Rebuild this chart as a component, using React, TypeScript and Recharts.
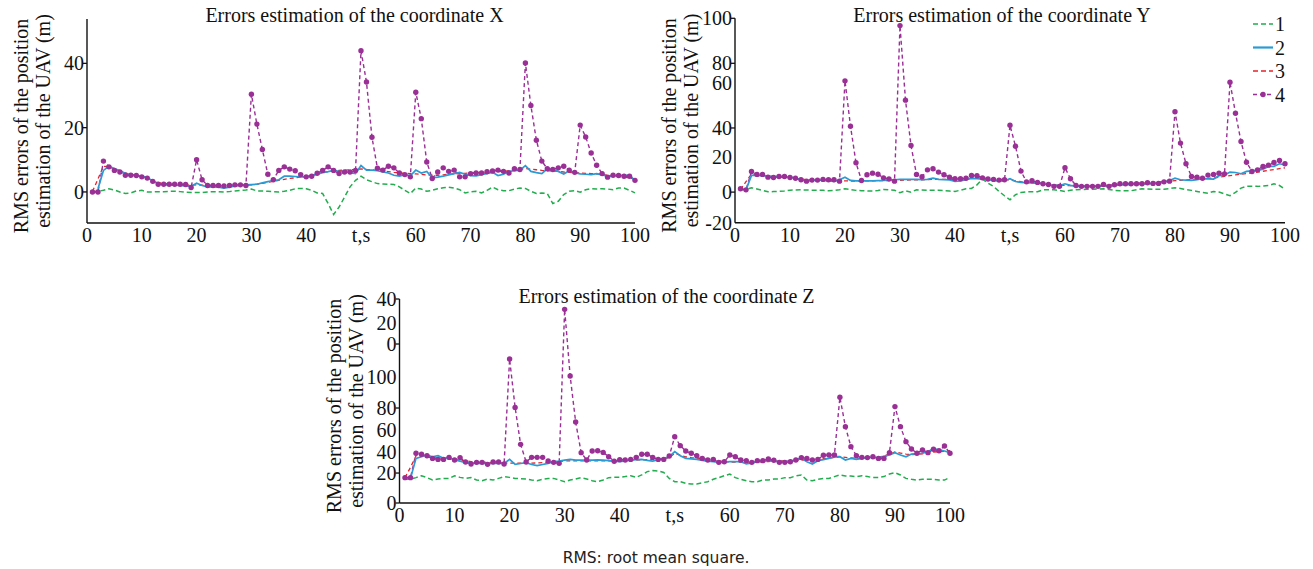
import React from 'react';
import { LineChart, Line, XAxis, YAxis, Legend } from 'recharts';

// time stamps (s)
const T: number[] = Array.from({ length: 100 }, (_, i) => i + 1);

const xTicks = [0, 10, 20, 30, 40, 50, 60, 70, 80, 90, 100];
const xTickLabels = ['0', '10', '20', '30', '40', 't,s', '60', '70', '80', '90', '100'];

// ---- coordinate X ----
const x1 = [0.1,0.2,0.5,1.0,0.6,0.0,-0.5,-0.3,0.3,0.5, 0.0,0.0,0.1,0.1,0.2,0.2,0.1,-0.1,-0.2,-0.2, -0.2,0.0,0.1,0.1,0.0,0.1,0.3,0.5,0.6,0.9, 0.3,0.3,0.2,0.1,0.0,0.2,0.5,1.0,1.1,1.0, 0.5,-0.3,-0.5,-3.6,-7.0,-4.7,-1.6,1.6,3.6,4.9, 3.8,3.2,2.6,2.5,2.4,2.3,1.6,0.5,-0.5,1.2, 0.9,0.2,0.5,1.0,1.3,1.5,1.2,0.7,-0.3,0.0, 0.2,-0.3,0.5,1.5,0.7,0.4,0.4,0.9,1.2,1.1, 0.2,-0.5,-0.3,-0.5,-3.6,-2.9,-0.8,0.2,0.4,-0.1, 0.7,1.0,0.9,1.0,0.9,0.7,1.2,1.2,0.5,-0.3];
const x2 = [null,1.0,6.7,8.0,7.3,6.6,5.8,5.3,5.1,4.9, 4.4,3.5,2.6,2.3,2.2,2.1,2.0,1.9,1.8,2.7, 2.0,1.6,1.6,1.5,1.2,1.5,1.9,2.1,2.2,2.3, 2.4,2.8,3.2,3.5,3.8,4.9,4.9,4.8,4.7,4.7, 5.2,5.5,6.0,6.3,6.7,6.4,6.3,6.0,5.7,8.2, 6.8,6.8,6.6,6.2,5.9,5.2,4.9,5.4,5.0,6.8, 5.9,6.4,4.4,4.6,4.9,5.3,5.7,6.1,5.5,5.1, 5.0,5.4,5.8,6.1,5.1,5.5,6.4,6.6,6.8,8.2, 6.4,6.0,5.7,7.2,6.8,6.4,5.6,6.6,6.0,5.6, 5.5,5.4,5.7,5.3,4.9,5.0,5.1,5.2,5.2,3.6];
const x3 = [0.2,4.0,8.0,7.8,7.2,6.5,5.9,5.4,5.1,4.8, 4.3,3.6,2.9,2.6,2.5,2.4,2.3,2.2,2.1,2.2, 2.1,2.0,2.0,1.9,1.9,1.9,2.0,2.0,2.1,2.2, 2.4,2.7,3.0,3.3,3.6,3.9,4.2,4.4,4.6,4.8, 5.2,5.6,6.0,6.3,6.5,6.7,6.8,6.9,7.0,7.2, 7.0,6.9,6.7,6.5,6.3,6.1,6.0,5.8,5.7,5.6, 5.5,5.3,5.2,5.2,5.3,5.5,5.6,5.7,5.8,5.9, 6.0,6.0,6.1,6.2,6.3,6.4,6.6,6.8,7.0,7.3, 7.1,6.9,6.7,6.6,6.5,6.4,6.2,6.1,6.0,5.9, 5.8,5.7,5.6,5.4,5.2,5.0,4.8,4.6,4.4,4.0];
const x4 = [0,0,9.6,7.8,6.7,6.2,5.2,5.2,5.1,4.7, 4.3,3.3,2.4,2.4,2.4,2.4,2.4,2.3,1.4,10, 3.8,2.0,2.0,2.0,1.9,2.0,2.2,2.2,2.0,30.4, 21.1,13.2,5.5,3.8,6.7,7.8,7.1,6.6,5.4,4.7, 4.9,5.8,6.7,7.8,6.7,5.7,6.2,6.2,6.7,43.9, 34.2,17,7.4,6.8,8.0,7.5,5.9,5.4,4.7,31, 22.8,9.3,4.2,6.2,7.5,6.4,6.8,4.7,4.7,5.7, 5.9,5.9,6.3,6.5,6.8,6.4,5.9,7.2,7.0,40.1, 26.9,16.1,9.6,7.2,7.0,7.5,8.0,6.8,6.1,20.8, 17.1,12.1,8.3,5.7,4.6,5.2,5.1,4.9,4.9,3.6];

// ---- coordinate Y ----
const y1 = [1.3,1.5,2.5,1.8,1.0,0.2,0.3,0.4,0.7,1.1, 1.2,1.3,1.2,1.1,1.1,1.0,0.8,1.0,1.4,1.9, 1.5,1.0,0.8,0.7,0.6,0.9,1.5,1.3,1.1,-0.4, 0.8,0.0,1.3,1.2,1.1,1.0,1.1,0.8,0.6,0.4, 1.1,1.9,2.1,4.2,7.5,5.2,3.3,0.4,-2.1,-4.4, -1.5,-0.2,0.2,0.2,0.2,1.3,1.3,1.3,0.9,0.4, 1.1,1.3,1.5,1.6,1.7,1.8,1.9,1.5,1.0,0.8, 0.8,0.8,1.3,1.9,1.8,1.7,1.7,1.7,2.0,2.5, 2.1,1.5,1.0,0.4,-0.2,-0.6,0.4,0.0,-1.0,-2.1, -0.2,2.3,3.3,3.3,3.3,3.5,3.8,4.8,3.8,1.7];
const y2 = [null,1.3,9.6,9.6,9.5,9.2,9.0,8.8,8.7,8.6, 8.0,7.2,6.7,6.8,7.0,6.8,6.5,6.1,7.1,8.6, 6.7,6.5,6.5,6.5,6.5,6.6,6.7,6.9,7.1,7.3, 7.3,7.3,7.3,7.2,7.3,8.0,7.3,7.2,7.0,6.1, 6.5,7.2,7.9,7.7,7.5,7.1,6.7,6.5,6.5,7.7, 6.1,5.6,5.5,5.3,5.2,4.8,4.2,4.0,3.8,4.8, 3.9,3.3,3.3,3.3,3.3,3.4,3.5,3.6,3.9,4.2, 4.3,4.4,4.4,4.6,4.8,5.0,5.2,5.8,6.7,8.0, 7.1,6.9,6.7,7.2,7.7,7.6,7.5,9.4,9.8,11.5, 11.3,10.5,11.9,12.2,12.5,13.2,14.8,14.8,16.3,15.7];
const y3 = [1.5,6.0,10.5,10.0,9.6,9.2,8.9,8.6,8.4,8.1, 7.8,7.5,7.2,7.0,6.9,6.8,6.7,6.6,6.5,6.5, 6.4,6.4,6.4,6.5,6.5,6.6,6.6,6.7,6.7,6.8, 6.9,7.0,7.0,7.1,7.2,7.3,7.3,7.3,7.3,7.4, 7.6,7.8,8.0,8.1,8.0,7.8,7.6,7.4,7.2,7.0, 6.5,6.0,5.7,5.4,5.1,4.8,4.5,4.2,4.0,3.9, 3.7,3.6,3.5,3.5,3.5,3.6,3.8,4.0,4.3,4.5, 4.7,4.9,5.1,5.3,5.5,5.7,5.9,6.1,6.3,6.6, 6.8,7.0,7.2,7.4,7.6,7.9,8.2,8.6,9.0,9.5, 9.9,10.3,10.7,11.1,11.5,12.0,12.5,13.0,13.5,14.0];
const y4 = [1.9,1.3,11.9,10.2,10.2,8.6,8.4,9.0,9.0,8.4, 8.0,7.1,6.3,6.9,6.9,7.3,7.1,7.1,6.3,64, 37.9,16.9,6.7,10,10.9,10.3,8.2,7.5,6.3,95.8, 52.9,26.8,10.2,8.8,12.8,13.4,11.5,10,8.6,7.7, 7.7,8.0,9.6,9.4,8.2,7.5,7.3,6.9,7.1,38.5, 26.4,12.1,5.9,6.5,5.6,4.8,4.4,3.3,3.3,14, 7.7,3.8,3.3,3.3,3.3,3.3,4.4,3.3,4.2,4.8, 4.8,4.8,4.8,4.8,5.4,5.0,5.0,5.9,6.3,46.2, 28.2,16.3,9.0,8.6,8.0,9.8,10.2,10.9,10.5,63.2, 45.4,29.1,17.2,11.9,12.8,14.8,15.5,17.0,18.2,16.3];

// ---- coordinate Z ----
const z1 = [18.6,18.8,19.9,21.4,19.9,18,18.8,19.3,19.3,21.4, 20.1,19.3,19.9,18,17.5,18.8,18,19.3,20.7,20.1, 19.3,19.1,18.8,18,17.5,18.6,19.3,19.3,18,16.7, 18,18.8,19.9,18.8,17.5,16.7,18,19.9,20.1,20.1, 20.7,21.4,20.1,22,24.6,25.4,25.1,24,19.3,16.7, 16.7,15.4,14.9,14.9,15.9,16.7,18.6,19.9,21.4,22.7, 19.9,18.6,17.5,16.7,16.7,18,18,18.8,18.8,19.9, 19.9,21.2,22,18,17.5,18.6,19.3,19.3,20.7,22, 21.2,21.2,20.7,21.4,20.7,19.9,20.1,20.7,22.7,23.8, 22,19.3,18.6,18,18.6,18.6,18.6,18,18,20.1];
const z2 = [null,19.3,35,36.3,37.6,36.3,37.1,35,35.6,33.7, 32.8,31.6,31.2,31.0,31.1,31.0,31.0,31.1,31.1,34.2, 30.3,31.0,31.6,30.2,29.3,30.2,31.1,32.4,32.9,33.7, 34.2,33.7,33.7,33.7,33.7,33.8,33.7,33.2,32.8,32.4, 33.0,33.7,34.0,34.2,33.5,32.9,34.0,35,36.3,40.3, 37.1,35,34.6,34.2,33.5,32.9,32.4,31.9,32.1,32.4, 32.4,32.4,30.6,31.5,32.4,32.8,33.2,32.8,32.4,32.4, 33.0,33.7,35,32.4,30.6,33.2,34.0,35,36.3,36.3, 33.7,35,34.2,35.0,35.8,35.7,35.6,36.6,37.6,39.5, 37.6,36.3,38.4,38.7,39,40.3,42.9,41.6,40.8,39.5];
const z3 = [20,28,37,36.8,36.2,35.6,35.1,34.7,34.3,34.0, 33.5,33.0,32.5,32.2,32.0,31.8,31.6,31.5,31.4,31.3, 31.2,31.2,31.2,31.3,31.4,31.6,31.9,32.2,32.6,33.0, 33.1,33.1,33.1,33.0,33.0,33.0,33.0,33.0,33.0,33.0, 33.2,33.4,33.6,33.8,34.0,34.2,34.5,34.8,35.5,39, 37.5,36.2,35.6,35.2,34.8,34.2,33.6,33.0,32.5,32.2, 32.0,32.0,32.0,32.0,32.1,32.3,32.5,32.7,32.9,33.0, 33.2,33.4,33.6,33.8,34.0,34.4,34.8,35.2,35.7,36.2, 35.8,35.4,35.0,35.0,35.1,35.4,35.9,36.8,38.3,40.0, 39.2,38.4,38.0,38.2,38.6,39.2,40.0,40.3,40.6,41.0];
const z4 = [19.9,19.9,39,38.2,37.1,35,34.2,34.2,35.8,33.7, 35.6,32.2,30.6,31.9,31.9,30.3,32.2,32.2,30.6,112.9, 75,46,32.2,35.8,35.8,35.8,32.9,31.9,31.1,151.9, 99.6,63.5,39.5,33.7,40.8,41,39.7,36.3,32.7,34, 33.7,34.2,35.8,38.2,38.2,35.8,34.2,34.2,36.9,52, 45,40.8,39,37.1,35,33.7,34.2,31.9,32.4,37.6, 36.3,33.7,33.2,31.9,33.2,33.2,34.5,33.5,31.9,31.9, 32.4,33.7,35.6,35,33.7,34.2,37.4,37.6,37.6,82.9, 59.9,44.2,37.1,35.8,35.6,36.3,35,35,39.5,75.6, 59.9,48.1,42.4,39,41.6,39.5,42.1,41,44.7,39];

// y-axis tick values and their printed labels (as printed in the figure)
const xPanelTicks = [0, 20, 40];
const xPanelLabels = ['0', '20', '40'];
const yPanelTicks = [-17.6, 0, 20.4, 36.9, 62.6, 74.1, 100];
const yPanelLabels = ['-20', '0', '20', '40', '60', '80', '100'];
const zPanelTicks = [0, 23.5, 40, 57.3, 74.5, 98.8, 124.7, 141.2, 160];
const zPanelLabels = ['0', '20', '40', '60', '80', '100', '0', '20', '40'];

const seriesNames = ['1', '2', '3', '4'];

const GREEN = '#22ad4e';
const BLUE = '#2a9bd4';
const RED = '#e8222b';
const PURPLE = '#9a2f96';
const SERIF = '"Liberation Serif", "Times New Roman", serif';

const build = (a: any[], b: any[], c: any[], d: any[]) =>
  T.map((t, i) => ({ t, s1: a[i], s2: b[i], s3: c[i], s4: d[i] }));

const dataX = build(x1, x2, x3, x4);
const dataY = build(y1, y2, y3, y4);
const dataZ = build(z1, z2, z3, z4);

const XTick = (props: any) => {
  const { x, y, payload } = props;
  const i = xTicks.indexOf(payload.value);
  return (
    <text x={x} y={y + 19} textAnchor="middle" fontFamily={SERIF} fontSize={20} fill="#111">
      {xTickLabels[i]}
    </text>
  );
};

const makeYTick = (ticks: number[], labels: string[], marks: number[]) => (props: any) => {
  const { x, y, payload } = props;
  const i = ticks.indexOf(payload.value);
  return (
    <g>
      {marks.indexOf(payload.value) >= 0 && (
        <line x1={x - 4} x2={x} y1={y} y2={y} stroke="#111" strokeWidth={1.3} />
      )}
      <text x={x - 3} y={y} dy="0.35em" textAnchor="end" fontFamily={SERIF} fontSize={20} fill="#111">
        {labels[i]}
      </text>
    </g>
  );
};

const LegendContent = () => (
  <svg width={60} height={100}>
    {seriesNames.map((n, i) => {
      const cy = 11 + i * 23.5;
      const color = [GREEN, BLUE, RED, PURPLE][i];
      const dash = i === 1 ? undefined : i === 3 ? '4 3' : '5 3';
      return (
        <g key={n}>
          <line x1={3} x2={23} y1={cy} y2={cy} stroke={color} strokeWidth={i === 1 ? 2.2 : 1.6} strokeDasharray={dash} />
          {i === 3 && <circle cx={13} cy={cy} r={2.7} fill={color} />}
          <text x={25} y={cy} dominantBaseline="central" fontFamily={SERIF} fontSize={20} fill="#111">
            {n}
          </text>
        </g>
      );
    })}
  </svg>
);

const renderLines = () => [
  <Line key="s1" type="linear" dataKey="s1" stroke={GREEN} strokeWidth={1.5} strokeDasharray="5 3" dot={false} activeDot={false} isAnimationActive={false} />,
  <Line key="s3" type="linear" dataKey="s3" stroke={RED} strokeWidth={1.3} strokeDasharray="4 3" dot={false} activeDot={false} isAnimationActive={false} />,
  <Line key="s4" type="linear" dataKey="s4" stroke={PURPLE} strokeWidth={1.4} strokeDasharray="4 3" dot={{ r: 2.7, fill: PURPLE, stroke: PURPLE, strokeWidth: 0 }} activeDot={false} isAnimationActive={false} />,
  <Line key="s2" type="linear" dataKey="s2" stroke={BLUE} strokeWidth={1.7} dot={false} activeDot={false} isAnimationActive={false} />,
];

const axisLine = { stroke: '#111', strokeWidth: 1.4 };

export default function App() {
  return (
    <div style={{ position: 'absolute', left: 0, top: 0, width: 1313, height: 569, background: '#fff', overflow: 'hidden' }}>
      {/* Panel X */}
      <div style={{ position: 'absolute', left: 0, top: 0 }}>
        <LineChart width={660} height={250} data={dataX} margin={{ top: 19, right: 25, bottom: 0, left: 27 }}>
          <XAxis dataKey="t" type="number" domain={[0, 100]} ticks={xTicks} interval={0} height={27} tickSize={0} tickMargin={0} tick={<XTick />} axisLine={axisLine} tickLine={false} />
          <YAxis type="number" domain={[-9.66, 53.8]} ticks={xPanelTicks} interval={0} width={60} tickSize={0} tickMargin={0} tick={makeYTick(xPanelTicks, xPanelLabels, xPanelTicks)} axisLine={axisLine} tickLine={false} />
          {renderLines()}
        </LineChart>
      </div>
      {/* Panel Y */}
      <div style={{ position: 'absolute', left: 660, top: 0 }}>
        <LineChart width={653} height={250} data={dataY} margin={{ top: 18.3, right: 28, bottom: 0, left: 15 }}>
          <XAxis dataKey="t" type="number" domain={[0, 100]} ticks={xTicks} interval={0} height={27.3} tickSize={0} tickMargin={0} tick={<XTick />} axisLine={axisLine} tickLine={false} />
          <YAxis type="number" domain={[-17.6, 100]} ticks={yPanelTicks} interval={0} width={60} tickSize={0} tickMargin={0} tick={makeYTick(yPanelTicks, yPanelLabels, [0, 36.9, 74.1, 100])} axisLine={axisLine} tickLine={false} />
          <Legend layout="vertical" align="center" verticalAlign="middle" content={<LegendContent />} wrapperStyle={{ left: 590, top: 13, width: 60, height: 100 }} />
          {renderLines()}
        </LineChart>
      </div>
      {/* Panel Z */}
      <div style={{ position: 'absolute', left: 310, top: 280 }}>
        <LineChart width={660} height={250} data={dataZ} margin={{ top: 19, right: 20, bottom: 0, left: 29.5 }}>
          <XAxis dataKey="t" type="number" domain={[0, 100]} ticks={xTicks} interval={0} height={27} tickSize={0} tickMargin={0} tick={<XTick />} axisLine={axisLine} tickLine={false} />
          <YAxis type="number" domain={[0, 160]} ticks={zPanelTicks} interval={0} width={60} tickSize={0} tickMargin={0} tick={makeYTick(zPanelTicks, zPanelLabels, [0, 23.5, 74.5, 124.7, 160])} axisLine={axisLine} tickLine={false} />
          {renderLines()}
        </LineChart>
      </div>
      {/* texts */}
      <svg width={1313} height={569} style={{ position: 'absolute', left: 0, top: 0, pointerEvents: 'none' }}>
        <g fontFamily={SERIF} fontSize={20} fill="#111">
          <text x={354.5} y={22} textAnchor="middle">Errors estimation of the coordinate X</text>
          <text x={1002} y={22} textAnchor="middle">Errors estimation of the coordinate Y</text>
          <text x={666.5} y={303} textAnchor="middle">Errors estimation of the coordinate Z</text>
          {[
            { ax: 87, cy: 121 },
            { ax: 735, cy: 120.5 },
            { ax: 399.5, cy: 401 },
          ].map((p, i) => (
            <g key={i}>
              <text x={p.ax - 66} y={p.cy + 5} transform={`rotate(-90 ${p.ax - 66} ${p.cy + 5})`} textAnchor="middle" dominantBaseline="central">RMS errors of the position</text>
              <text x={p.ax - 44} y={p.cy} transform={`rotate(-90 ${p.ax - 44} ${p.cy})`} textAnchor="middle" dominantBaseline="central">estimation of the UAV (m)</text>
            </g>
          ))}
        </g>
        <text x={656} y={562.5} textAnchor="middle" fontFamily='"DejaVu Sans", sans-serif' fontSize={15.5} fill="#222">RMS: root mean square.</text>
      </svg>
    </div>
  );
}
